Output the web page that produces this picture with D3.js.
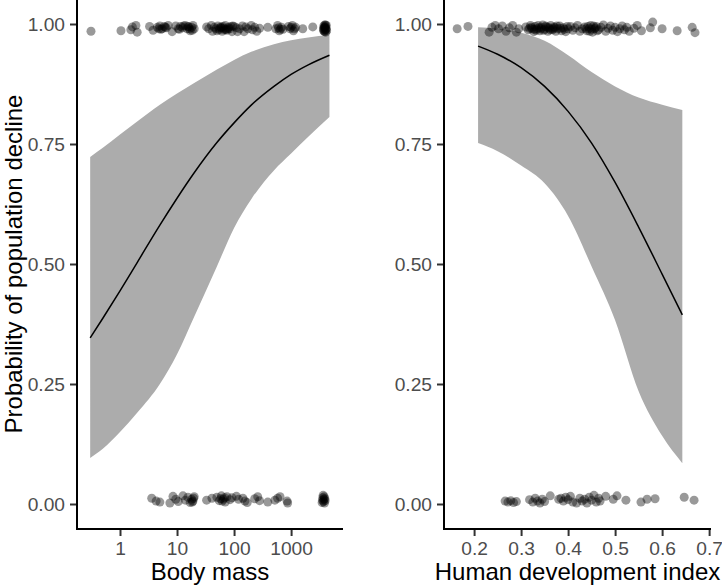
<!DOCTYPE html>
<html><head><meta charset="utf-8">
<script src="https://cdn.jsdelivr.net/npm/d3@7"></script>
<style>body{margin:0;background:#fff}svg{display:block}</style>
</head><body>
<svg id="c" width="722" height="586"></svg>
<script>
// ---------- data ----------
const yTicks = [0, 0.25, 0.5, 0.75, 1];
const massTicks = [1, 10, 100, 1000];
const hdiTicks = [0.2, 0.3, 0.4, 0.5, 0.6, 0.7];

// fitted curve + confidence band, body mass panel
const massFitX  = [0.3, 0.5, 1, 2, 5, 10, 20, 50, 100, 200, 500, 1000, 2000, 4700];
const massFitP  = [0.346, 0.387, 0.444, 0.503, 0.581, 0.637, 0.690, 0.753, 0.794, 0.831, 0.870, 0.895, 0.915, 0.935];
const massFitLo = [0.096, 0.115, 0.150, 0.190, 0.250, 0.312, 0.390, 0.495, 0.575, 0.635, 0.695, 0.730, 0.765, 0.806];
const massFitHi = [0.723, 0.742, 0.770, 0.797, 0.832, 0.855, 0.877, 0.905, 0.925, 0.942, 0.958, 0.966, 0.972, 0.977];

// fitted curve + confidence band, HDI panel
const hdiFitX  = [0.2085, 0.25, 0.3, 0.35, 0.4, 0.45, 0.5, 0.55, 0.6, 0.643];
const hdiFitP  = [0.954, 0.937, 0.909, 0.870, 0.818, 0.752, 0.670, 0.577, 0.479, 0.394];
const hdiFitLo = [0.752, 0.735, 0.705, 0.668, 0.600, 0.495, 0.383, 0.235, 0.142, 0.085];
const hdiFitHi = [0.993, 0.990, 0.982, 0.965, 0.935, 0.900, 0.870, 0.847, 0.832, 0.821];

// observed (jittered) outcomes: body mass, declined
const massDeclined = [
 [0.31,0.985],[1.04,0.986],[1.55,0.988],[1.65,0.994],[1.9,0.997],[2.0,0.983],[3.3,0.995],[3.8,0.987],
 [4.5,0.993],[5.0,0.996],[5.5,0.99],[6.0,0.995],[6.5,0.992],[7.0,0.997],[8.2,0.984],[9.5,0.996],
 [5.2,0.989],[6.2,0.993],[4.8,0.99],[11,0.989],[13,0.996],[16.5,0.99],[18.5,0.987],[15.5,0.995],
 [10.5,0.99],[11.5,0.995],[12.5,0.992],[14,0.997],[15,0.99],[16,0.994],[17,0.986],[18,0.993],[19,0.997],[20,0.99],
 [33,0.994],[36,0.99],[40,0.997],[42,0.985],[45,0.993],[48,0.99],[52,0.996],[55,0.988],[58,0.994],[62,0.985],
 [66,0.991],[70,0.997],[75,0.987],[80,0.993],[85,0.99],[92,0.984],[100,0.995],[110,0.992],[115,0.984],
 [60,0.992],[72,0.989],[95,0.996],[50,0.986],[64,0.995],[68,0.988],[78,0.99],[88,0.995],[56,0.991],
 [125,0.99],[140,0.996],[150,0.984],[160,0.994],[175,0.99],[200,0.997],[210,0.988],[230,0.993],[250,0.985],[280,0.991],
 [390,0.993],[540,0.99],[580,0.997],[620,0.986],[680,0.993],[720,0.989],[900,0.995],[960,0.99],[1050,0.997],
 [600,0.992],[650,0.989],[1000,0.993],[1150,0.99],
 [1100,0.986],[1200,0.993],[1600,0.99],[2400,0.994],
 [3700,0.99],[3750,0.996],[3800,0.985],[3850,0.993],[3900,0.998],[3950,0.988],[4000,0.994],[4050,0.983],
 [4100,0.991],[4150,0.997],[4200,0.986],[3800,0.992],[3900,0.984],[4000,0.998],[4100,0.989],[3700,0.987]
];
// body mass, not declined
const massStable = [
 [3.6,0.012],[4.3,0.006],[5.0,0.004],[7.5,0.002],[8.5,0.016],[9.5,0.01],[10.5,0.005],[12.7,0.017],[14,0.008],
 [15.5,0.014],[17,0.003],[18,0.01],[19,0.006],[20,0.015],[19.5,0.012],[18.5,0.004],
 [33,0.008],[41,0.012],[50,0.014],[55,0.007],[60,0.017],[65,0.01],[70,0.004],[75,0.015],[85,0.009],[92,0.013],
 [62,0.006],[68,0.013],[58,0.011],
 [110,0.016],[120,0.01],[143,0.012],[155,0.006],[170,0.003],[230,0.011],[260,0.015],[280,0.007],[390,0.004],
 [520,0.008],[580,0.012],[640,0.015],[850,0.006],[870,0.002],
 [3500,0.003],[3550,0.008],[3600,0.013],[3650,0.018],[3700,0.005],[3750,0.01],[3800,0.015],[3850,0.002],[3900,0.011],[3950,0.007]
];
// HDI, declined
const hdiDeclined = [
 [0.164,0.99],[0.187,0.995],[0.232,0.983],[0.238,0.993],[0.245,0.997],[0.252,0.99],[0.26,0.996],[0.268,0.985],
 [0.275,0.992],[0.282,0.997],[0.29,0.983],[0.295,0.99],
 [0.31,0.994],[0.315,0.988],[0.32,0.997],[0.323,0.99],[0.327,0.984],[0.33,0.995],[0.333,0.99],[0.336,0.997],
 [0.34,0.986],[0.343,0.993],[0.346,0.998],[0.35,0.989],[0.353,0.994],[0.357,0.985],[0.36,0.991],[0.363,0.997],
 [0.367,0.988],[0.37,0.994],[0.374,0.985],[0.378,0.99],[0.382,0.996],[0.386,0.986],[0.39,0.992],[0.395,0.984],[0.4,0.99],
 [0.318,0.991],[0.328,0.989],[0.338,0.992],[0.348,0.987],[0.358,0.993],[0.368,0.99],[0.376,0.996],[0.384,0.991],
 [0.322,0.993],[0.332,0.987],[0.342,0.99],[0.352,0.996],[0.362,0.988],[0.372,0.992],[0.392,0.989],[0.398,0.995],
 [0.405,0.995],[0.41,0.987],[0.415,0.992],[0.42,0.997],[0.425,0.985],[0.43,0.99],[0.435,0.994],[0.44,0.986],
 [0.445,0.991],[0.448,0.997],[0.452,0.983],[0.456,0.99],[0.46,0.995],[0.465,0.988],[0.47,0.993],
 [0.438,0.99],[0.442,0.995],[0.45,0.989],[0.458,0.992],[0.462,0.986],[0.446,0.985],[0.454,0.996],
 [0.475,0.998],[0.48,0.985],[0.485,0.991],[0.49,0.996],[0.495,0.987],[0.5,0.993],[0.505,0.984],[0.51,0.99],
 [0.515,0.996],[0.52,0.988],[0.525,0.993],[0.53,0.985],[0.54,0.991],[0.547,0.997],[0.556,0.986],[0.575,0.992],
 [0.58,1.004],[0.6,0.99],[0.632,0.986],[0.664,0.993],[0.67,0.982]
];
// HDI, not declined
const hdiStable = [
 [0.266,0.006],[0.272,0.004],[0.278,0.007],[0.284,0.003],[0.29,0.005],
 [0.318,0.009],[0.325,0.004],[0.33,0.012],[0.335,0.006],[0.34,0.002],[0.345,0.01],[0.35,0.005],[0.362,0.017],
 [0.38,0.01],[0.385,0.012],[0.39,0.006],[0.395,0.014],[0.4,0.009],[0.405,0.016],[0.41,0.004],[0.418,0.002],
 [0.425,0.012],[0.43,0.006],[0.435,0.01],[0.44,0.002],[0.445,0.014],[0.45,0.008],[0.455,0.018],[0.46,0.004],
 [0.465,0.012],[0.468,0.006],
 [0.48,0.016],[0.496,0.01],[0.504,0.017],[0.523,0.008],[0.555,0.004],[0.568,0.01],[0.585,0.011],[0.647,0.014],[0.668,0.008]
];

// ---------- drawing ----------
const svg = d3.select("#c");
const FONT = "'Liberation Sans', Arial, sans-serif";
const panelTop = 0, panelBottom = 529;
const y = d3.scaleLinear().domain([-0.05, 1.05]).range([528, 0]);

function panel(opts) {
  const { x, left, right, fitX, fitP, fitLo, fitHi, pts, ticks, fmt, title } = opts;
  const g = svg.append("g");
  const fit = fitX.map((v, i) => ({ x: v, p: fitP[i], lo: fitLo[i], hi: fitHi[i] }));

  g.append("path").datum(fit)
    .attr("fill", "#acacac")
    .attr("d", d3.area().curve(d3.curveMonotoneX).x(d => x(d.x)).y0(d => y(d.lo)).y1(d => y(d.hi)));
  g.append("path").datum(fit)
    .attr("fill", "none").attr("stroke", "#000").attr("stroke-width", 1.5)
    .attr("d", d3.line().curve(d3.curveMonotoneX).x(d => x(d.x)).y(d => y(d.p)));

  g.selectAll("circle.pt").data(pts).join("circle")
    .attr("class", "pt")
    .attr("cx", d => x(d[0])).attr("cy", d => y(d[1])).attr("r", 4.5)
    .attr("fill", "#000").attr("fill-opacity", 0.4);

  // axes
  const yAx = g.append("g").attr("transform", `translate(${left},0)`)
    .call(d3.axisLeft(y).tickValues(yTicks).tickFormat(d3.format(".2f")).tickSize(7).tickPadding(5));
  const xAx = g.append("g").attr("transform", `translate(0,${panelBottom})`)
    .call(d3.axisBottom(x).tickValues(ticks).tickFormat(fmt).tickSize(7).tickPadding(4));
  [yAx, xAx].forEach(a => {
    a.select(".domain").remove();
    a.selectAll(".tick line").attr("stroke", "#333").attr("stroke-width", 2);
    a.selectAll(".tick text").attr("fill", "#4d4d4d").style("font-family", FONT).style("font-size", "19.2px");
  });
  xAx.selectAll(".tick text").attr("dy", "0.78em");
  g.append("line").attr("x1", left).attr("x2", left).attr("y1", panelTop).attr("y2", panelBottom + 1)
    .attr("stroke", "#000").attr("stroke-width", 2);
  g.append("line").attr("x1", left - 1).attr("x2", right).attr("y1", panelBottom).attr("y2", panelBottom)
    .attr("stroke", "#000").attr("stroke-width", 2);

  g.append("text").attr("x", (left + right) / 2).attr("y", 580)
    .attr("text-anchor", "middle").attr("fill", "#000")
    .style("font-family", FONT).style("font-size", "24px").text(title);
}

panel({
  x: d3.scaleLog().domain([0.1762, 8130]).range([77, 343]),
  left: 77, right: 343,
  fitX: massFitX, fitP: massFitP, fitLo: massFitLo, fitHi: massFitHi,
  pts: massDeclined.concat(massStable),
  ticks: massTicks, fmt: d3.format("d"), title: "Body mass"
});
panel({
  x: d3.scaleLinear().domain([0.136, 0.704]).range([444, 711]),
  left: 444, right: 711,
  fitX: hdiFitX, fitP: hdiFitP, fitLo: hdiFitLo, fitHi: hdiFitHi,
  pts: hdiDeclined.concat(hdiStable),
  ticks: hdiTicks, fmt: d3.format(".1f"), title: "Human development index"
});

svg.append("text")
  .attr("transform", "translate(22,264) rotate(-90)")
  .attr("text-anchor", "middle").attr("fill", "#000")
  .style("font-family", FONT).style("font-size", "24px")
  .text("Probability of population decline");
</script>
</body></html>
